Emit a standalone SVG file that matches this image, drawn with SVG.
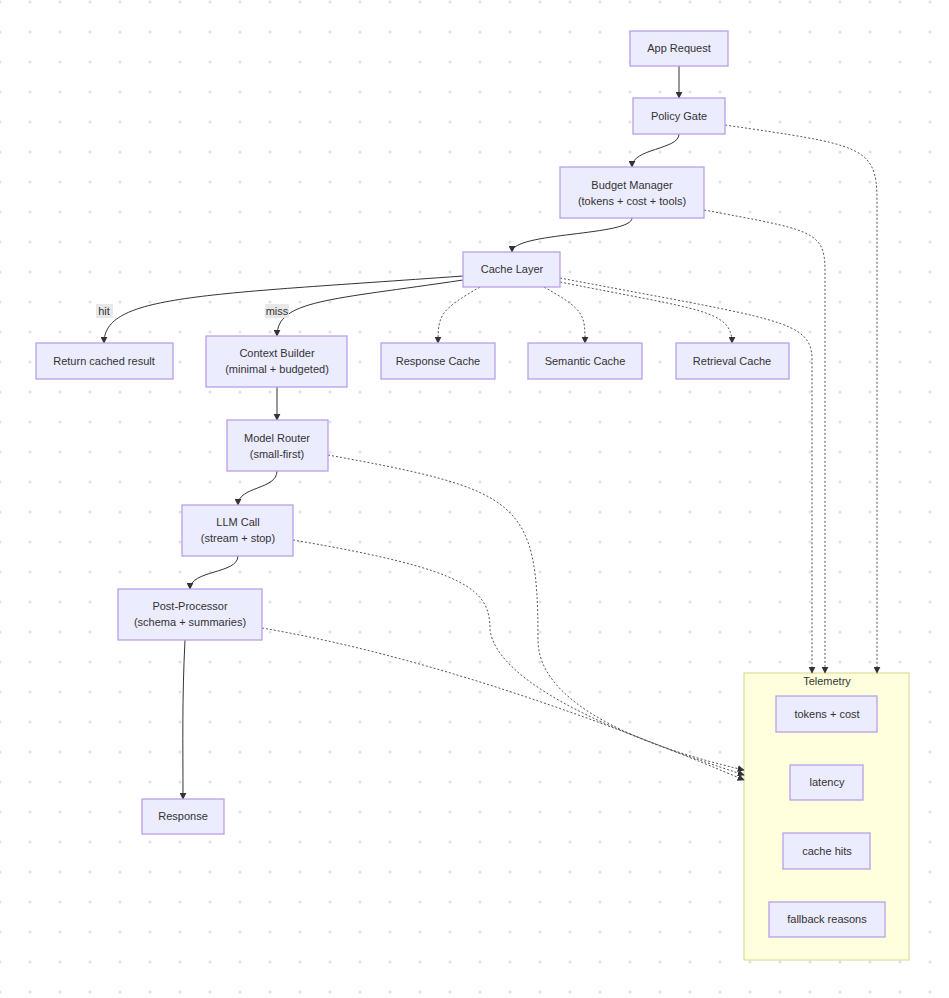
<svg xmlns="http://www.w3.org/2000/svg" width="949" height="998" viewBox="0 0 949 998">
<defs>
<pattern id="dots" x="0" y="2" width="30" height="30" patternUnits="userSpaceOnUse"><circle cx="0" cy="0" r="1.5" fill="#e0e0e0"/><circle cx="30" cy="0" r="1.5" fill="#e0e0e0"/><circle cx="0" cy="30" r="1.5" fill="#e0e0e0"/><circle cx="30" cy="30" r="1.5" fill="#e0e0e0"/></pattern>
<marker id="ah" viewBox="0 0 10 10" refX="9" refY="5" markerWidth="7" markerHeight="7" orient="auto-start-reverse"><path d="M0,0 L10,5 L0,10 z" fill="#333"/></marker>
</defs>
<style>
.n rect{fill:#ececff;stroke:#b9a0e8;stroke-width:1.3}
text{font-family:"Liberation Sans",Arial,sans-serif;font-size:11px;fill:#333;text-anchor:middle}
.e{fill:none;stroke:#333;stroke-width:1;marker-end:url(#ah)}
.d{stroke-dasharray:2 2;stroke:#555}
.lb{fill:#e8e8e8}
</style>
<rect width="949" height="998" fill="#fff"/>
<rect width="949" height="998" fill="url(#dots)"/>
<g id="telemetry"><rect x="744" y="673" width="165" height="287" fill="#ffffde" stroke="#d6d68a" stroke-width="1"/><text x="827" y="685">Telemetry</text></g>
<g id="connectors">
<path class="e" d="M679,66 L679,98"/>
<path class="e" d="M679,134 C679,150 632,148 632,167"/>
<path class="e" d="M632,218 C632,236 512,232 512,252"/>
<path class="e" d="M463,276 C200,295 104,295 104,343"/>
<path class="e" d="M463,280 C330,300 277,300 277,336"/>
<path class="e d" d="M480,287 C440,310 438,315 438,343"/>
<path class="e d" d="M544,287 C585,310 585,315 585,343"/>
<path class="e d" d="M560,282 C700,310 732,310 732,343"/>
<path class="e d" d="M560,278 C780,320 812,320 812,360 L812,673"/>
<path class="e d" d="M704,210 C810,230 825,230 825,270 L825,673"/>
<path class="e d" d="M725,125 C860,145 877,145 877,200 L877,673"/>
<path class="e" d="M277,387 L277,420"/>
<path class="e" d="M277,471 C277,490 238,486 238,505"/>
<path class="e" d="M238,556 C238,574 190,570 190,589"/>
<path class="e" d="M185,640 C182,700 183,740 183,799"/>
<path class="e d" d="M328,455 C520,490 538,500 538,640 C538,720 700,760 744,770"/>
<path class="e d" d="M293,540 C470,570 490,590 490,630 C500,700 700,760 744,775"/>
<path class="e d" d="M262,628 C450,660 650,740 744,780"/>
<rect class="lb" x="96" y="304" width="17" height="14"/><text x="104" y="315">hit</text>
<rect class="lb" x="265" y="304" width="24" height="14"/><text x="277" y="315">miss</text>
</g>
<g id="app" class="n"><rect x="630" y="31" width="98" height="35"/><text x="679" y="52">App Request</text></g>
<g id="policy" class="n"><rect x="633" y="98" width="92" height="36"/><text x="679" y="120">Policy Gate</text></g>
<g id="budget" class="n"><rect x="560" y="167" width="144" height="51"/><text x="632" y="189">Budget Manager</text><text x="632" y="205">(tokens + cost + tools)</text></g>
<g id="cache" class="n"><rect x="463" y="252" width="97" height="35"/><text x="512" y="273">Cache Layer</text></g>
<g id="ret" class="n"><rect x="36" y="343" width="137" height="36"/><text x="104" y="365">Return cached result</text></g>
<g id="ctx" class="n"><rect x="206" y="336" width="141" height="51"/><text x="277" y="357">Context Builder</text><text x="277" y="373">(minimal + budgeted)</text></g>
<g id="rc" class="n"><rect x="381" y="343" width="114" height="36"/><text x="438" y="365">Response Cache</text></g>
<g id="sc" class="n"><rect x="528" y="343" width="114" height="36"/><text x="585" y="365">Semantic Cache</text></g>
<g id="rtc" class="n"><rect x="676" y="343" width="113" height="36"/><text x="732" y="365">Retrieval Cache</text></g>
<g id="router" class="n"><rect x="227" y="420" width="101" height="51"/><text x="277" y="442">Model Router</text><text x="277" y="458">(small-first)</text></g>
<g id="llm" class="n"><rect x="182" y="505" width="111" height="51"/><text x="238" y="526">LLM Call</text><text x="238" y="542">(stream + stop)</text></g>
<g id="post" class="n"><rect x="118" y="589" width="144" height="51"/><text x="190" y="610">Post-Processor</text><text x="190" y="626">(schema + summaries)</text></g>
<g id="resp" class="n"><rect x="142" y="799" width="82" height="35"/><text x="183" y="820">Response</text></g>
<g id="tc" class="n"><rect x="776" y="696" width="101" height="36"/><text x="827" y="718">tokens + cost</text></g>
<g id="lat" class="n"><rect x="790" y="765" width="73" height="35"/><text x="827" y="786">latency</text></g>
<g id="ch" class="n"><rect x="783" y="833" width="87" height="36"/><text x="827" y="855">cache hits</text></g>
<g id="fr" class="n"><rect x="769" y="902" width="116" height="35"/><text x="827" y="923">fallback reasons</text></g>
</svg>
